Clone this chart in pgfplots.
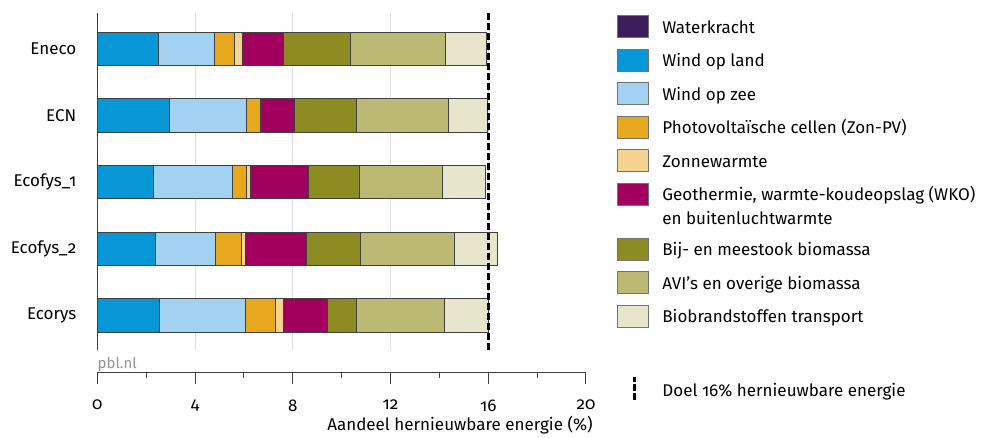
\documentclass[border=0pt]{standalone}
\usepackage{fontspec}
\setmainfont{Fira Sans}[Numbers=OldStyle]
\usepackage{pgfplots}
\usepackage{pgfplotstable}
\pgfplotsset{compat=1.18}

\definecolor{cWater}{HTML}{3B1D5C}
\definecolor{cWL}{HTML}{0897D6}
\definecolor{cWZ}{HTML}{A3D1F2}
\definecolor{cPV}{HTML}{E8A81E}
\definecolor{cZW}{HTML}{F5D391}
\definecolor{cGeo}{HTML}{A2005E}
\definecolor{cBij}{HTML}{8C8C22}
\definecolor{cAVI}{HTML}{BBBA74}
\definecolor{cBio}{HTML}{E7E6CD}
\definecolor{cEdge}{HTML}{404040}

% y: 0 = Eneco, 1 = ECN, 2 = Ecofys_1, 3 = Ecofys_2, 4 = Ecorys
\pgfplotstableread{
y water wl   wz   pv   zw   geo  bij  avi  bio
0 0     2.50 2.29 0.84 0.30 1.68 2.77 3.88 1.67
1 0     2.95 3.16 0.55 0.04 1.35 2.56 3.78 1.57
2 0     2.29 3.25 0.57 0.17 2.36 2.08 3.41 1.74
3 0     2.39 2.44 1.08 0.16 2.50 2.21 3.83 1.76
4 0     2.56 3.52 1.22 0.34 1.77 1.20 3.59 1.83
}\datatable

\pgfplotsset{
  sq/.style={legend image code/.code={
    \path[draw=none] (0pt,-2.5pt) -- (0pt,8.8pt);
    \draw[fill=#1, draw=black!55, line width=0.5pt] (0pt,-2.2pt) rectangle (15.5pt,8.8pt);}},
}

\begin{document}
\begin{tikzpicture}[font=\fontsize{8.5}{11.5}\selectfont]
\useasboundingbox (0,0) rectangle (493.5pt,-219pt);

% main axis with the bars
\begin{axis}[
  scale only axis, width=244.35pt, height=168.5pt,
  at={(48.65pt,-175pt)}, anchor=south west,
  xbar stacked, bar width=0.5,
  xmin=0, xmax=20, ymin=-0.54, ymax=4.52, y dir=reverse,
  axis lines*=left,
  x axis line style={draw=none},
  y axis line style={draw=black!75, line width=0.5pt},
  xtick={4,8,12,16}, xticklabels={}, xtick style={draw=none},
  xmajorgrids, grid style={draw=black!12, line width=0.5pt},
  ytick={0,1,2,3,4},
  yticklabels={Eneco,ECN,Ecofys\_1,Ecofys\_2,Ecorys},
  ytick style={draw=none},
  yticklabel style={xshift=-7pt},
  every axis plot/.append style={draw=cEdge, line width=0.5pt},
  clip=false,
]
\addplot[fill=cWater] table[x=water, y=y] {\datatable};
\addplot[fill=cWL] table[x=wl, y=y] {\datatable};
\addplot[fill=cWZ] table[x=wz, y=y] {\datatable};
\addplot[fill=cPV] table[x=pv, y=y] {\datatable};
\addplot[fill=cZW] table[x=zw, y=y] {\datatable};
\addplot[fill=cGeo] table[x=geo, y=y] {\datatable};
\addplot[fill=cBij] table[x=bij, y=y] {\datatable};
\addplot[fill=cAVI] table[x=avi, y=y] {\datatable};
\addplot[fill=cBio] table[x=bio, y=y] {\datatable};
\node[anchor=north west, inner sep=0pt, text=black!42, font=\fontsize{7.5}{9}\selectfont, yshift=-3.5pt] at (axis description cs:0,0) {pbl.nl};
\end{axis}

% x scale, target line and legend
\begin{axis}[
  scale only axis, width=244.35pt, height=180pt,
  at={(48.65pt,-186.5pt)}, anchor=south west,
  xmin=0, xmax=20, ymin=0, ymax=360,
  axis x line*=bottom, axis y line=none,
  x axis line style={draw=black!75, line width=0.5pt},
  xtick={0,4,8,12,16,20}, minor x tick num=1,
  xtick align=outside,
  major tick length=5.5pt, minor tick length=2.5pt,
  tick style={draw=black!75, line width=0.5pt},
  xticklabel style={yshift=-4.5pt},
  /pgf/number format/assume math mode=true,
  xlabel={Aandeel hernieuwbare energie (\%)},
  xlabel style={at={(axis description cs:1,0)}, anchor=base east, inner sep=0pt, yshift=-29pt, xshift=3.5pt},
  legend style={at={(1,1)}, anchor=north west, xshift=15.5pt, yshift=-1pt,
    draw=none, fill=none, inner sep=0pt, row sep=5.2pt,
    nodes={inner sep=0pt}, cells={anchor=base west},
    /tikz/every odd column/.append style={column sep=6.5pt}},
  clip=false,
]
\addlegendimage{sq=cWater}\addlegendentry{Waterkracht}
\addlegendimage{sq=cWL}\addlegendentry{Wind op land}
\addlegendimage{sq=cWZ}\addlegendentry{Wind op zee}
\addlegendimage{sq=cPV}\addlegendentry{Photovoltaïsche cellen (Zon-PV)}
\addlegendimage{sq=cZW}\addlegendentry{Zonnewarmte}
\addlegendimage{sq=cGeo}\addlegendentry{Geothermie, warmte-koudeopslag (WKO)}
\addlegendimage{empty legend}\addlegendentry{\smash{en buitenluchtwarmte}\rule[-1.8pt]{0pt}{5.8pt}}
\addlegendimage{sq=cBij}\addlegendentry{Bij- en meestook biomassa}
\addlegendimage{sq=cAVI}\addlegendentry{AVI's en overige biomassa}
\addlegendimage{sq=cBio}\addlegendentry{Biobrandstoffen transport}
\addlegendimage{empty legend}\addlegendentry{\rule{0pt}{11.9pt}}
\addplot[black, line width=1.5pt, dash pattern=on 3.5pt off 1.5pt,
  legend image code/.code={
    \path[draw=none] (0pt,-1.7pt) -- (15.5pt,10pt);
    \draw[black, line width=1.5pt, dash pattern=on 3.5pt off 1pt] (8.15pt,-1.7pt) -- (8.15pt,10pt);}]
  coordinates {(16,23) (16,360)};
\addlegendentry{Doel 16\% hernieuwbare energie}
\end{axis}
\end{tikzpicture}
\end{document}
